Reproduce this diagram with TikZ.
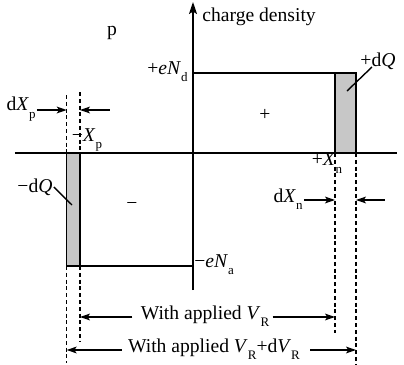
\documentclass[tikz,border=0pt]{standalone}
\usepackage{fontspec}
\setmainfont{Liberation Serif}
\usetikzlibrary{arrows.meta}
\newcommand\lsub[1]{\raisebox{-0.8ex}{\fontsize{6.5}{7}\selectfont #1}}
\begin{document}
\begin{tikzpicture}[x=0.5pt,y=-0.5pt,
  solid line/.style={line width=0.7pt},
  dash line/.style={line width=0.75pt,dash pattern=on 2pt off 1.4pt},
  dim arrow/.style={line width=0.7pt,-{Stealth[length=5pt,width=3.4pt,inset=1.2pt]}},
  lbl/.style={inner sep=0pt,font=\fontsize{9.8}{11}\selectfont},
  band/.style={fill=black!22,draw=black,line width=0.7pt}]
\useasboundingbox (0,0) rectangle (404,365);
% coordinates
\coordinate (axL) at (15,153);
\coordinate (axR) at (397,153);
\coordinate (axB) at (193,290);
\coordinate (axT) at (193,2);
% shaded bands
\draw[band] (335,73) rectangle (356,153);
\draw[band] (66.7,153) rectangle (80,266);
% rectangles
\draw[solid line] (193,73) -- (335,73) -- (335,153);
\draw[solid line] (80,153) -- (80,266);
\draw[solid line] (66.7,266) -- (193,266);
% axes
\draw[solid line] (axL) -- (axR);
\draw[solid line,-{Stealth[length=6pt,width=4pt,inset=1.2pt]}] (axB) -- (axT);
% dashed lines
\coordinate (pa1) at (66.7,95);  \coordinate (pa2) at (66.7,153);
\coordinate (pa3) at (66.7,266); \coordinate (pa4) at (66.7,363);
\coordinate (pb1) at (80,92);    \coordinate (pb2) at (80,153);
\coordinate (pb3) at (80,266);   \coordinate (pb4) at (80,342);
\coordinate (na1) at (335,153);  \coordinate (na2) at (335,333);
\coordinate (nb1) at (356,153);  \coordinate (nb2) at (356,365);
\draw[dash line] (pa1) -- (pa2) (pa3) -- (pa4);
\draw[dash line] (pb1) -- (pb2) (pb3) -- (pb4);
\draw[dash line] (na1) -- (na2);
\draw[dash line] (nb1) -- (nb2);
% labels
\node[lbl] (p) at (112,33) {p};
\node[lbl,anchor=west] (cd) at (202,17) {charge density};
\node[lbl,anchor=east] (eNd) at (188,72) {+\textit{eN}\lsub{d}};
\node[lbl] (dQp) at (378,61) {+d\textit{Q}};
\node[lbl] (plus) at (265,115) {+};
\node[lbl] (Xn) at (327,163) {+\textit{X}\lsub{n}};
\node[lbl,anchor=east] (dXn) at (303,199) {d\textit{X}\lsub{n}};
\node[lbl,anchor=west] (eNa) at (194,265) {−\textit{eN}\lsub{a}};
\node[lbl] (dQm) at (35,187) {−d\textit{Q}};
\node[lbl] (minus) at (132,206) {−};
\node[lbl,anchor=east] (dXp) at (36,109) {d\textit{X}\lsub{p}};
\node[lbl] (Xp) at (87,140) {−\textit{X}\lsub{p}};
\node[lbl] (wa1) at (205,316) {With applied \textit{V}\lsub{R}};
\node[lbl] (wa2) at (214,349) {With applied \textit{V}\lsub{R}+d\textit{V}\lsub{R}};
% leader lines
\coordinate (lq1) at (347,91);
\coordinate (lq1s) at (372,67);
\coordinate (lq2) at (72,205);
\draw[solid line] (lq1s) -- (lq1);
\draw[solid line] (dQm.east) ++(1,0) coordinate (lq2s) -- (lq2);
% dimension arrows
\coordinate (d1) at (66.7,110); \coordinate (d2) at (80,110); \coordinate (d3) at (110,110);
\draw[dim arrow] (dXp.east) ++(1,1) coordinate (d0) -- (d1);
\draw[dim arrow] (d3) -- (d2);
\coordinate (e1) at (335,200); \coordinate (e2) at (356,200); \coordinate (e3) at (385,200);
\draw[dim arrow] (dXn.east) ++(1,1) coordinate (e0) -- (e1);
\draw[dim arrow] (e3) -- (e2);
\coordinate (f1) at (80,317); \coordinate (f2) at (335,317);
\draw[dim arrow] (wa1.west) ++(-8,1) coordinate (f0) -- (f1);
\draw[dim arrow] (wa1.east) ++(3,1) coordinate (f3) -- (f2);
\coordinate (g1) at (66.7,350); \coordinate (g2) at (356,350);
\draw[dim arrow] (wa2.west) ++(-6,1) coordinate (g0) -- (g1);
\draw[dim arrow] (wa2.east) ++(10,1) coordinate (g3) -- (g2);
\end{tikzpicture}
\end{document}
